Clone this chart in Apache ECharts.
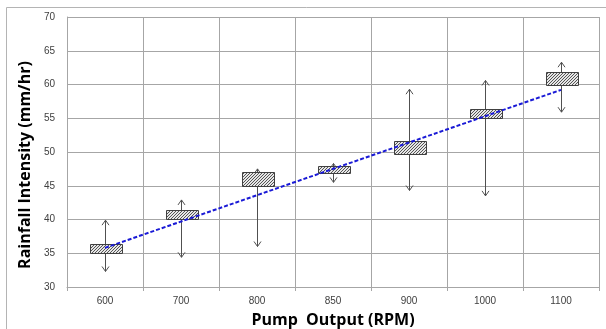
<!DOCTYPE html>
<html>
<head>
<meta charset="utf-8">
<script src="https://cdn.jsdelivr.net/npm/echarts@6/dist/echarts.min.js"></script>
<style>
html,body{margin:0;padding:0;background:#fff;}
#c{width:606px;height:329px;}
</style>
</head>
<body>
<div id="c"></div>
<script>
var categories = ['600', '700', '800', '850', '900', '1000', '1100'];
var boxLow   = [35.0, 40.0, 45.0, 46.9, 49.8, 54.9, 59.9];
var boxHigh  = [36.3, 41.4, 47.0, 47.9, 51.7, 56.3, 61.8];
var arrowLow  = [32.3, 34.4, 36.0, 45.5, 44.3, 43.5, 55.9];
var arrowHigh = [39.9, 42.9, 47.5, 48.3, 59.3, 60.6, 63.3];
var trendStart = 35.8;
var trendEnd = 59.2;
var yTicks = { min: 30, max: 70, step: 5 };

// hatch pattern
var pat = document.createElement('canvas');
pat.width = 3; pat.height = 3;
var g = pat.getContext('2d');
g.fillStyle = '#e6e6e6';
g.fillRect(0, 0, 3, 3);
g.strokeStyle = '#555555';
g.lineWidth = 1;
g.beginPath();
g.moveTo(0, 3); g.lineTo(3, 0);
g.moveTo(-1, 1); g.lineTo(1, -1);
g.moveTo(2, 4); g.lineTo(4, 2);
g.stroke();

var boxData = categories.map(function (c, i) {
  return [i, arrowLow[i], arrowHigh[i], boxLow[i], boxHigh[i]];
});

var chart = echarts.init(document.getElementById('c'), null, { renderer: 'canvas' });
var gridColor = '#a6a6a6';
var labelColor = '#404040';

function renderBox(params, api) {
  var i = api.value(0);
  var band = api.size([1, 0])[0];
  var w = band * 0.42;
  var pLow = api.coord([i, api.value(1)]);
  var pHigh = api.coord([i, api.value(2)]);
  var bLow = api.coord([i, api.value(3)]);
  var bHigh = api.coord([i, api.value(4)]);
  var x = Math.round(pLow[0]) + 0.5;
  var ah = 5, aw = 3.5;
  var stroke = { stroke: '#505050', lineWidth: 1, fill: null };
  return {
    type: 'group',
    children: [
      { type: 'line', shape: { x1: x, y1: pLow[1], x2: x, y2: pHigh[1] }, style: stroke },
      { type: 'polyline', shape: { points: [[x - aw, pHigh[1] + ah], [x, pHigh[1]], [x + aw, pHigh[1] + ah]] }, style: stroke },
      { type: 'polyline', shape: { points: [[x - aw, pLow[1] - ah], [x, pLow[1]], [x + aw, pLow[1] - ah]] }, style: stroke },
      {
        type: 'rect',
        shape: { x: Math.round(x - w / 2) + 0.5, y: Math.round(bHigh[1]) + 0.5, width: Math.round(w), height: Math.round(bLow[1] - bHigh[1]) },
        style: { fill: { image: pat, repeat: 'repeat' }, stroke: '#404040', lineWidth: 1 }
      }
    ]
  };
}

chart.setOption({
  animation: false,
  backgroundColor: '#ffffff',
  graphic: [{
    type: 'rect',
    shape: { x: 6.5, y: 7.5, width: 700, height: 400 },
    style: { fill: null, stroke: '#b4b4b4', lineWidth: 1 },
    silent: true
  }],
  grid: { left: 67, right: 7, top: 17, bottom: 42, containLabel: false, outerBoundsMode: 'none' },
  xAxis: {
    type: 'category',
    data: categories,
    boundaryGap: true,
    name: 'Pump  Output (RPM)',
    nameLocation: 'middle',
    nameGap: 25,
    nameTextStyle: { fontFamily: 'Open Sans', fontWeight: 'bold', fontSize: 16, color: '#000' },
    axisLine: { lineStyle: { color: gridColor } },
    axisTick: { show: true, length: 4, lineStyle: { color: gridColor } },
    axisLabel: { fontFamily: 'Liberation Sans', fontSize: 10, color: labelColor, margin: 9 },
    splitLine: { show: true, interval: 0, lineStyle: { color: gridColor } }
  },
  yAxis: {
    type: 'value',
    min: yTicks.min, max: yTicks.max, interval: yTicks.step,
    name: 'Rainfall Intensity (mm/hr)',
    nameLocation: 'middle',
    nameGap: 32,
    nameTextStyle: { fontFamily: 'Open Sans', fontWeight: 'bold', fontSize: 16, color: '#000', padding: [0, 26, 0, 0] },
    axisLine: { show: true, lineStyle: { color: gridColor } },
    axisTick: { show: false },
    axisLabel: { fontFamily: 'Liberation Sans', fontSize: 10, color: labelColor, margin: 12 },
    splitLine: { show: true, lineStyle: { color: gridColor } }
  },
  series: [
    {
      type: 'custom',
      renderItem: renderBox,
      data: boxData,
      encode: { x: 0, y: [1, 2, 3, 4] },
      z: 3
    },
    {
      type: 'line',
      data: [[categories[0], trendStart], [categories[categories.length - 1], trendEnd]],
      symbol: 'none',
      lineStyle: { color: '#1a1ad6', width: 2, type: [4, 2] },
      z: 5
    }
  ]
});
</script>
</body>
</html>
